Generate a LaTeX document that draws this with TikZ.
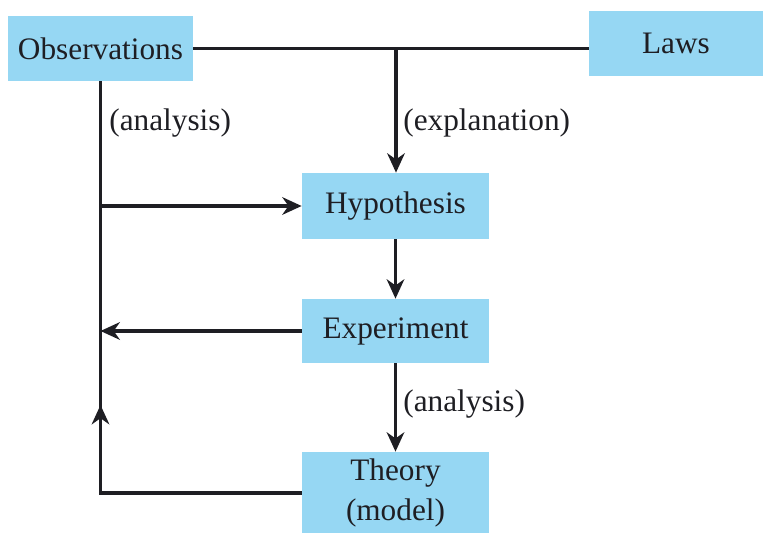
\documentclass[tikz,border=0pt]{standalone}
\usepackage{fontspec}
\setmainfont{Liberation Serif}
\usetikzlibrary{arrows.meta}
\definecolor{boxblue}{RGB}{150,215,243}
\definecolor{ink}{RGB}{30,30,35}

\tikzset{
  stage/.style = {fill=boxblue, inner sep=0pt, text=ink, align=center,
                  font=\fontsize{17.8}{22.5}\selectfont},
  tag/.style   = {inner sep=0pt, anchor=west, text=ink,
                  font=\fontsize{17.8}{21}\selectfont},
  link/.style  = {draw=ink, line width=1.8pt},
  arr/.style   = {link, -{Stealth[length=11pt,width=10pt,inset=3.5pt]}}
}

\begin{document}
\begin{tikzpicture}[x=0.02cm, y=-0.02cm]
\useasboundingbox (0,0) rectangle (765,533);
% boxes
\node[stage, minimum width=185*0.02cm, minimum height=65*0.02cm] (obs) at (100.5,48.5) {Observations};
\node[stage, minimum width=174*0.02cm, minimum height=65*0.02cm] (laws) at (676,43.5) {Laws};
\node[stage, minimum width=187*0.02cm, minimum height=66*0.02cm] (hyp) at (395.5,206) {Hypothesis};
\node[stage, minimum width=187*0.02cm, minimum height=64*0.02cm] (exp) at (395.5,331) {Experiment};
\node[stage, minimum width=187*0.02cm, minimum height=82*0.02cm] (th) at (395.5,493) {Theory\\(model)};
% labels
\node[tag] (lana) at (109,123) {(analysis)};
\node[tag] (lexp) at (403,123) {(explanation)};
\node[tag] (lanb) at (403,404) {(analysis)};
% connectors
\coordinate (jn) at (396,48);
\coordinate (up) at (100.5,405);
\draw[link] (obs.east) -- (obs.east -| laws.west);
\draw[arr] (jn) -- (jn |- hyp.north);
\draw[arr] (hyp.south) -- (exp.north);
\draw[arr] (exp.south) -- (th.north);
\draw[link] (obs.south) |- (th.west);
\draw[arr] (th.west) -| (up);
\draw[arr] (obs.south |- hyp.west) -- (hyp.west);
\draw[arr] (exp.west) -- (exp.west -| obs.south);
\end{tikzpicture}
\end{document}
